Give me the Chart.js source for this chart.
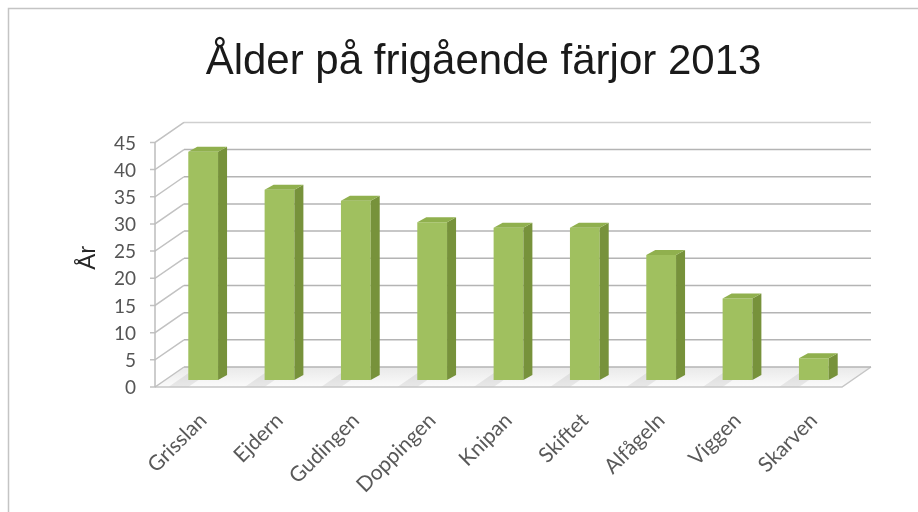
<!DOCTYPE html>
<html><head><meta charset="utf-8">
<script src="https://cdn.jsdelivr.net/npm/chart.js@4/dist/chart.umd.min.js"></script>
<style>html,body{margin:0;padding:0;background:#fff;overflow:hidden}#wrap{position:relative;width:918px;height:512px}</style>
</head><body><div id="wrap"><canvas id="c" width="918" height="512"></canvas></div>
<script>
// ---- data ----
const categories = ['Grisslan','Ejdern','Gudingen','Doppingen','Knipan','Skiftet','Alfågeln','Viggen','Skarven'];
const ages = [42, 35, 33, 29, 28, 28, 23, 15, 4];
const yMin = 0, yMax = 45, yStep = 5;
const titleText = 'Ålder på frigående färjor 2013';
const yTitleText = 'År';

// ---- styling (depth offsets relative to bar plane) ----
const FRONT = {dx: -10, dy: 7};
const BACK = {dx: 19, dy: -13};
const BAR_DEPTH = {dx: 9, dy: -5};

const depth3d = {
  id: 'depth3d',
  beforeDraw(chart) {
    const ctx = chart.ctx;
    ctx.save();
    ctx.strokeStyle = '#c4c4c4';
    ctx.lineWidth = 1.5;
    ctx.beginPath();
    ctx.moveTo(8.5, 512); ctx.lineTo(8.5, 8.5); ctx.lineTo(918, 8.5);
    ctx.stroke();
    ctx.restore();
  },
  beforeDatasetsDraw(chart) {
    const {ctx, chartArea: a, scales: {x, y}} = chart;
    const L = a.left, R = a.right;
    const y0 = y.getPixelForValue(0);
    ctx.save();
    // floor
    ctx.beginPath();
    ctx.moveTo(L + FRONT.dx, y0 + FRONT.dy);
    ctx.lineTo(R + FRONT.dx, y0 + FRONT.dy);
    ctx.lineTo(R + BACK.dx, y0 + BACK.dy);
    ctx.lineTo(L + BACK.dx, y0 + BACK.dy);
    ctx.closePath();
    const g = ctx.createLinearGradient(0, y0 + BACK.dy, 0, y0 + FRONT.dy);
    g.addColorStop(0, '#e9e9e9'); g.addColorStop(1, '#fbfbfb');
    ctx.fillStyle = g; ctx.fill();
    // bar shadows on floor
    const meta = chart.getDatasetMeta(0);
    meta.data.forEach(el => {
      const left = el.x - el.width / 2;
      ctx.beginPath();
      ctx.moveTo(left - 20, y0 + FRONT.dy);
      ctx.lineTo(left, y0 + FRONT.dy);
      ctx.lineTo(left + BACK.dx + 10, y0 + BACK.dy);
      ctx.lineTo(left + BACK.dx - 10, y0 + BACK.dy);
      ctx.closePath();
      ctx.fillStyle = 'rgba(0,0,0,0.07)';
      ctx.fill();
    });
    ctx.strokeStyle = '#c6c6c6'; ctx.lineWidth = 1.5;
    ctx.beginPath();
    ctx.moveTo(L + FRONT.dx, y0 + FRONT.dy);
    ctx.lineTo(R + FRONT.dx, y0 + FRONT.dy);
    ctx.lineTo(R + BACK.dx, y0 + BACK.dy);
    ctx.stroke();
    // walls / gridlines
    y.ticks.forEach(t => {
      const py = y.getPixelForValue(t.value);
      ctx.strokeStyle = t.value === yMax ? '#cfcfcf' : '#b4b4b4';
      ctx.lineWidth = 1.5;
      ctx.beginPath();
      ctx.moveTo(L + BACK.dx, py + BACK.dy);
      ctx.lineTo(R + BACK.dx, py + BACK.dy);
      ctx.stroke();
      ctx.strokeStyle = '#c2c2c2';
      ctx.beginPath();
      ctx.moveTo(L + FRONT.dx - 5, py + FRONT.dy);
      ctx.lineTo(L + FRONT.dx, py + FRONT.dy);
      ctx.lineTo(L + BACK.dx, py + BACK.dy);
      ctx.stroke();
    });
    ctx.strokeStyle = '#bdbdbd';
    ctx.beginPath();
    ctx.moveTo(L + FRONT.dx, y.getPixelForValue(yMin) + FRONT.dy);
    ctx.lineTo(L + FRONT.dx, y.getPixelForValue(yMax) + FRONT.dy);
    ctx.stroke();
    ctx.restore();
  },
  afterDatasetsDraw(chart) {
    const ctx = chart.ctx;
    const meta = chart.getDatasetMeta(0);
    ctx.save();
    meta.data.forEach(el => {
      const l = el.x - el.width / 2, r = el.x + el.width / 2;
      const top = el.y, base = el.base;
      // side
      ctx.beginPath();
      ctx.moveTo(r, top);
      ctx.lineTo(r + BAR_DEPTH.dx, top + BAR_DEPTH.dy);
      ctx.lineTo(r + BAR_DEPTH.dx, base + BAR_DEPTH.dy);
      ctx.lineTo(r, base);
      ctx.closePath();
      ctx.fillStyle = '#77923b';
      ctx.fill();
      // top
      ctx.beginPath();
      ctx.moveTo(l, top);
      ctx.lineTo(l + BAR_DEPTH.dx, top + BAR_DEPTH.dy);
      ctx.lineTo(r + BAR_DEPTH.dx, top + BAR_DEPTH.dy);
      ctx.lineTo(r, top);
      ctx.closePath();
      ctx.fillStyle = '#90b04e';
      ctx.fill();
    });
    ctx.restore();
  }
};

new Chart(document.getElementById('c'), {
  type: 'bar',
  data: {
    labels: categories,
    datasets: [{
      data: ages,
      backgroundColor: '#a0c05f',
      borderWidth: 0,
      categoryPercentage: 1,
      barPercentage: 0.39
    }]
  },
  options: {
    responsive: false,
    animation: false,
    events: [],
    layout: {padding: {left: 49, right: 0, top: 0, bottom: 0}},
    plugins: {
      legend: {display: false},
      tooltip: {enabled: false},
      title: {
        display: true,
        text: titleText,
        color: '#1a1a1a',
        font: {family: 'Liberation Sans', size: 42, weight: 'normal', lineHeight: 1.2},
        padding: {top: 37, bottom: 48}
      }
    },
    scales: {
      x: {
        grid: {display: false, drawTicks: false},
        border: {display: false},
        ticks: {
          maxRotation: 45, minRotation: 45,
          padding: 28,
          color: '#595959',
          font: {family: 'Lato', size: 21}
        },
        afterFit(s) { s.height = 132; }
      },
      y: {
        min: yMin, max: yMax,
        grid: {display: false, drawTicks: false},
        border: {display: false},
        ticks: {
          stepSize: yStep,
          padding: 29,
          labelOffset: 8,
          color: '#555555',
          font: {family: 'Lato', size: 19}
        },
        title: {
          display: true,
          text: yTitleText,
          color: '#262626',
          font: {family: 'Liberation Sans', size: 24, lineHeight: 1.2},
          padding: {top: 25, bottom: 0}
        },
        afterFit(s) { s.width = 116; }
      },
      yR: {
        position: 'right',
        display: true,
        grid: {display: false, drawTicks: false},
        border: {display: false},
        ticks: {display: false},
        afterFit(s) { s.width = 66; }
      }
    }
  },
  plugins: [depth3d]
});
</script>
</body></html>
